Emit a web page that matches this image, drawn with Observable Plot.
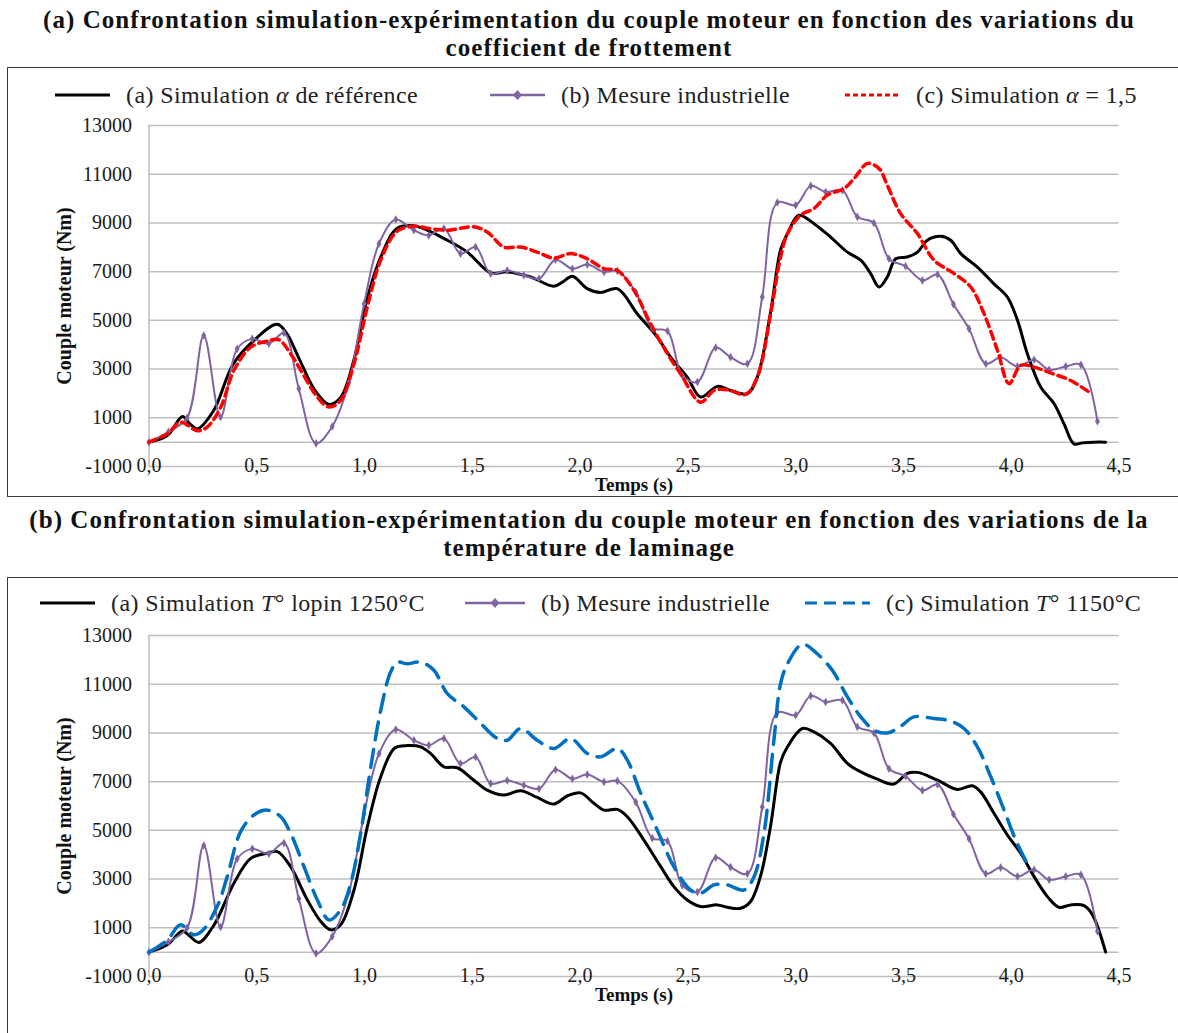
<!DOCTYPE html>
<html>
<head>
<meta charset="utf-8">
<script src="https://cdn.jsdelivr.net/npm/d3@7"></script>
<script src="https://cdn.jsdelivr.net/npm/@observablehq/plot@0.6"></script>
<style>
  body { margin: 0; background: #fff; width: 1178px; height: 1033px; position: relative; overflow: hidden;
         font-family: "Liberation Serif", "DejaVu Serif", serif; color: #1a1a1a; }
  .title { position: absolute; left: 0; width: 1178px; text-align: center; font-weight: bold;
           font-size: 25px; letter-spacing: 1.05px; line-height: 28px; color: #111; }
  .box { position: absolute; left: 7px; width: 1185px; border: 1.5px solid #3a3a3a; }
  .leg { position: absolute; display: flex; align-items: center; font-size: 24px; letter-spacing: 0.4px;
         white-space: nowrap; color: #222; }
  .leg svg { margin-right: 16px; }
  .chart { position: absolute; left: 0; }
  .chart svg { overflow: visible; }
</style>
</head>
<body>
<script>
// ---- Tick values and labels ----
const xTicks = [0, 0.5, 1, 1.5, 2, 2.5, 3, 3.5, 4, 4.5];
const yTicks = [-1000, 1000, 3000, 5000, 7000, 9000, 11000, 13000];
const yGrid = [-1000, 0, 1000, 3000, 5000, 7000, 9000, 11000, 13000];

// ---- Mesure industrielle (common to both charts) ----
const tMesure = [0, 0.09, 0.177, 0.254, 0.332, 0.409, 0.479, 0.556, 0.626, 0.695, 0.775, 0.85, 0.928, 0.998,
  1.067, 1.145, 1.229, 1.298, 1.368, 1.445, 1.515, 1.585, 1.662, 1.739, 1.809, 1.886, 1.964, 2.033, 2.111,
  2.173, 2.258, 2.335, 2.405, 2.474, 2.544, 2.629, 2.698, 2.776, 2.845, 2.915, 3.0, 3.07, 3.139, 3.217,
  3.286, 3.363, 3.433, 3.51, 3.588, 3.658, 3.732, 3.804, 3.882, 3.951, 4.029, 4.106, 4.176, 4.253, 4.323, 4.4];
const cMesure = [0, 420, 1000, 4380, 1030, 3830, 4240, 4040, 4480, 2190, -50, 640, 2470, 5680,
  8150, 9140, 8700, 8490, 8770, 7740, 8010, 6920, 7050, 6850, 6710, 7490, 7120, 7290, 6990,
  7030, 6160, 4680, 4560, 2740, 2470, 3880, 3490, 3220, 5960, 9840, 9730, 10520, 10270, 10340,
  9250, 9000, 7530, 7220, 6640, 6880, 5660, 4660, 3220, 3470, 3110, 3380, 2970, 3110, 3180, 860];

// ---- (a) Simulation, alpha de référence ----
const tAlphaRef = [0, 0.085, 0.155, 0.19, 0.224, 0.30, 0.39, 0.487, 0.595, 0.64, 0.70, 0.77, 0.835, 0.89, 0.95,
  1.01, 1.075, 1.15, 1.229, 1.384, 1.477, 1.585, 1.662, 1.77, 1.878, 1.92, 1.964, 2.033, 2.095, 2.173, 2.265,
  2.358, 2.42, 2.497, 2.559, 2.637, 2.698, 2.776, 2.822, 2.884, 2.93, 2.962, 3.015, 3.085, 3.162, 3.24, 3.302,
  3.348, 3.387, 3.425, 3.464, 3.518, 3.565, 3.611, 3.673, 3.719, 3.766, 3.843, 3.92, 3.982, 4.029, 4.075,
  4.137, 4.199, 4.245, 4.291, 4.33, 4.384, 4.438];
const cAlphaRef = [0, 270, 1050, 750, 550, 1300, 3200, 4180, 4840, 4450, 3360, 2120, 1550, 1850, 3360,
  5820, 7600, 8770, 8880, 8290, 7800, 6950, 6990, 6780, 6400, 6580, 6810, 6300, 6140, 6300, 5270,
  4315, 3490, 2670, 1850, 2290, 2120, 1990, 2670, 5350, 7900, 8560, 9315, 8970, 8420, 7800, 7470,
  6920, 6370, 6780, 7530, 7600, 7800, 8290, 8450, 8290, 7740, 7190, 6500, 5960, 5000, 3630,
  2260, 1575, 750, -70, -30, 0, 0];

// ---- (c) Simulation, alpha = 1,5 ----
const tAlpha15 = [0, 0.085, 0.146, 0.224, 0.27, 0.333, 0.394, 0.472, 0.549, 0.603, 0.657, 0.704, 0.781, 0.835,
  0.889, 0.951, 1.013, 1.075, 1.152, 1.229, 1.303, 1.384, 1.507, 1.569, 1.646, 1.724, 1.801, 1.878, 1.956,
  2.033, 2.111, 2.173, 2.25, 2.327, 2.405, 2.466, 2.559, 2.621, 2.683, 2.768, 2.822, 2.884, 2.93, 2.962,
  3.023, 3.085, 3.147, 3.224, 3.271, 3.333, 3.387, 3.425, 3.487, 3.565, 3.642, 3.735, 3.812, 3.874, 3.936,
  3.99, 4.044, 4.106, 4.183, 4.276, 4.369];
const cAlpha15 = [0, 340, 820, 470, 620, 1440, 2950, 3900, 4150, 4200, 3630, 2950, 1850, 1440,
  1710, 3220, 5550, 7470, 8670, 8860, 8770, 8700, 8840, 8630, 8010, 8010, 7800, 7560, 7740,
  7530, 7120, 7050, 6230, 4860, 3630, 2810, 1640, 2120, 2150, 1960, 2670, 5270, 7600, 8560,
  9320, 9590, 10140, 10410, 10820, 11440, 11230, 10550, 9380, 8560, 7470, 6920, 6370, 5270, 3770,
  2400, 3150, 3080, 2840, 2530, 2010];

// ---- (a) Simulation, T° lopin 1250°C ----
const tT1250 = [0, 0.085, 0.155, 0.19, 0.232, 0.302, 0.394, 0.472, 0.549, 0.596, 0.657, 0.735, 0.797, 0.843,
  0.889, 0.951, 1.013, 1.075, 1.14, 1.2, 1.26, 1.306, 1.368, 1.43, 1.507, 1.569, 1.646, 1.724, 1.801, 1.878,
  1.94, 2.002, 2.064, 2.111, 2.173, 2.219, 2.296, 2.374, 2.435, 2.497, 2.559, 2.637, 2.683, 2.745, 2.791,
  2.838, 2.884, 2.93, 2.962, 3.031, 3.085, 3.162, 3.24, 3.302, 3.379, 3.456, 3.518, 3.565, 3.658, 3.75,
  3.82, 3.858, 3.92, 3.982, 4.044, 4.106, 4.168, 4.222, 4.276, 4.338, 4.377, 4.438];
const cT1250 = [0, 300, 870, 650, 400, 1120, 2830, 3850, 4060, 4130, 3510, 2140, 1260, 915,
  1120, 2550, 5150, 7200, 8380, 8480, 8430, 8160, 7610, 7570, 7060, 6650, 6450, 6630, 6350, 6080,
  6410, 6540, 6110, 5830, 5860, 5560, 4600, 3510, 2690, 2140, 1870, 1940, 1840, 1800, 2080,
  3150, 5200, 7800, 8430, 9180, 9040, 8570, 7750, 7400, 7100, 6900, 7340, 7380, 7060, 6680,
  6830, 6580, 5700, 4810, 4060, 3100, 2280, 1840, 1940, 1910, 1530, 0];

// ---- (c) Simulation, T° 1150°C ----
const tT1150 = [0, 0.085, 0.146, 0.208, 0.25, 0.316, 0.363, 0.425, 0.487, 0.549, 0.611, 0.657, 0.719, 0.781,
  0.835, 0.889, 0.936, 0.982, 1.029, 1.075, 1.121, 1.152, 1.198, 1.26, 1.322, 1.384, 1.461, 1.539, 1.616,
  1.662, 1.724, 1.801, 1.878, 1.956, 2.033, 2.095, 2.173, 2.219, 2.281, 2.358, 2.435, 2.513, 2.559, 2.621,
  2.683, 2.76, 2.807, 2.853, 2.899, 2.93, 2.962, 3.031, 3.1, 3.17, 3.24, 3.302, 3.364, 3.426, 3.488, 3.549,
  3.642, 3.719, 3.781, 3.843, 3.905, 3.967, 4.021, 4.07];
const cT1150 = [0, 500, 1120, 710, 900, 1870, 3100, 4950, 5630, 5830, 5560, 4880, 3510, 2140,
  1325, 1735, 2830, 4880, 7610, 9930, 11500, 11900, 11840, 11910, 11570, 10610, 10070, 9390, 8770,
  8700, 9180, 8700, 8360, 8770, 8160, 8020, 8360, 7880, 6520, 5010, 3510, 2550, 2420, 2760,
  2760, 2550, 3100, 4880, 8700, 11020, 11840, 12640, 12250, 11570, 10480, 9660, 9110, 9000, 9280, 9660,
  9590, 9490, 9180, 8430, 7200, 5830, 4600, 3700];

// ---- Titles and legend labels ----
const titles = [
  ["(a) Confrontation simulation-expérimentation du couple moteur en fonction des variations du",
   "coefficient de frottement"],
  ["(b) Confrontation simulation-expérimentation du couple moteur en fonction des variations de la",
   "température de laminage"]
];
const legendA = ["(a) Simulation <i>α</i> de référence", "(b) Mesure industrielle", "(c) Simulation <i>α</i> = 1,5"];
const legendB = ["(a) Simulation <i>T</i>° lopin 1250°C", "(b) Mesure industrielle", "(c) Simulation <i>T</i>° 1150°C"];

const purple = "#8064a2";
const rows = (ts, vs) => ts.map((t, i) => ({t, v: vs[i]}));
const fmtX = d => d.toFixed(1).replace(".", ",");

function addTitle(lines, top) {
  const div = document.createElement("div");
  div.className = "title";
  div.style.top = top + "px";
  div.innerHTML = lines.join("<br>");
  document.body.appendChild(div);
}

function addBox(top, height) {
  const div = document.createElement("div");
  div.className = "box";
  div.style.top = top + "px";
  div.style.height = height + "px";
  document.body.appendChild(div);
}

function swatch(style) {
  const w = style.w;
  let s = `<svg width="${w}" height="14" viewBox="0 0 ${w} 14">`;
  s += `<line x1="0" y1="7" x2="${w}" y2="7" stroke="${style.color}" stroke-width="${style.sw}"` +
       (style.dash ? ` stroke-dasharray="${style.dash}"` : "") + `/>`;
  if (style.diamond) {
    const c = w / 2;
    s += `<path d="M${c},2 L${c + 4.5},7 L${c},12 L${c - 4.5},7 Z" fill="${style.color}"/>`;
  }
  return s + "</svg>";
}

function addLegend(labels, styles, lefts, cy) {
  labels.forEach((lab, i) => {
    const div = document.createElement("div");
    div.className = "leg";
    div.style.left = lefts[i] + "px";
    div.style.top = (cy - 14) + "px";
    div.style.height = "28px";
    div.innerHTML = swatch(styles[i]) + `<span>${lab}</span>`;
    document.body.appendChild(div);
  });
}

function chart(series, top) {
  const marks = [
    Plot.ruleY(yGrid, {x1: 0, x2: 4.5, stroke: "#bfbfbf", strokeWidth: 1.5}),
    Plot.ruleX([0], {y1: -1000, y2: 13000, stroke: "#bfbfbf", strokeWidth: 1.5}),
    Plot.axisY({ticks: yTicks, tickSize: 0, tickPadding: 17, tickFormat: d => String(d), label: null}),
    Plot.axisX({ticks: xTicks, tickSize: 0, tickPadding: -9, tickFormat: fmtX, label: null})
  ];
  for (const s of series) {
    marks.push(Plot.line(s.data, {x: "t", y: "v", stroke: s.color, strokeWidth: s.sw,
      strokeDasharray: s.dash, curve: "catmull-rom"}));
    if (s.dots) marks.push(Plot.dot(s.data, {x: "t", y: "v", symbol: "diamond", r: 2.6, fill: s.color}));
  }
  marks.push(
    Plot.text(["Couple moteur (Nm)"], {frameAnchor: "left", textAnchor: "middle", dx: -84, rotate: -90,
      fontWeight: "bold", fontSize: 20, fill: "#111"}),
    Plot.text(["Temps (s)"], {frameAnchor: "bottom", dy: 24, fontWeight: "bold", fontSize: 19, fill: "#111"})
  );
  const svg = Plot.plot({
    width: 1178, height: 395,
    marginLeft: 148.5, marginRight: 59.5, marginTop: 20, marginBottom: 34,
    x: {domain: [0, 4.5]},
    y: {domain: [-1000, 13000]},
    style: {fontFamily: "Liberation Serif", fontSize: "20px", color: "#1a1a1a", background: "transparent"},
    marks
  });
  const wrap = document.createElement("div");
  wrap.className = "chart";
  wrap.style.top = top + "px";
  wrap.appendChild(svg);
  document.body.appendChild(wrap);
}

// ---- Panel (a): coefficient de frottement ----
addTitle(titles[0], 6);
addBox(67, 428);
addLegend(legendA,
  [{w: 55, color: "#000", sw: 3}, {w: 55, color: purple, sw: 2.5, diamond: true}, {w: 55, color: "#ff0000", sw: 3, dash: "5,3"}],
  [55, 490, 845], 95);
chart([
  {data: rows(tAlphaRef, cAlphaRef), color: "#000", sw: 3},
  {data: rows(tMesure, cMesure), color: purple, sw: 2, dots: true},
  {data: rows(tAlpha15, cAlpha15), color: "#ff0000", sw: 3.5, dash: "8,5"}
], 105);

// ---- Panel (b): température de laminage ----
addTitle(titles[1], 506);
addBox(577, 520);
addLegend(legendB,
  [{w: 55, color: "#000", sw: 3}, {w: 60, color: purple, sw: 2.5, diamond: true}, {w: 65, color: "#0070c0", sw: 3, dash: "12,7"}],
  [40, 465, 805], 603);
chart([
  {data: rows(tT1250, cT1250), color: "#000", sw: 3},
  {data: rows(tMesure, cMesure), color: purple, sw: 2, dots: true},
  {data: rows(tT1150, cT1150), color: "#0070c0", sw: 3.5, dash: "18,10"}
], 615);
</script>
</body>
</html>
